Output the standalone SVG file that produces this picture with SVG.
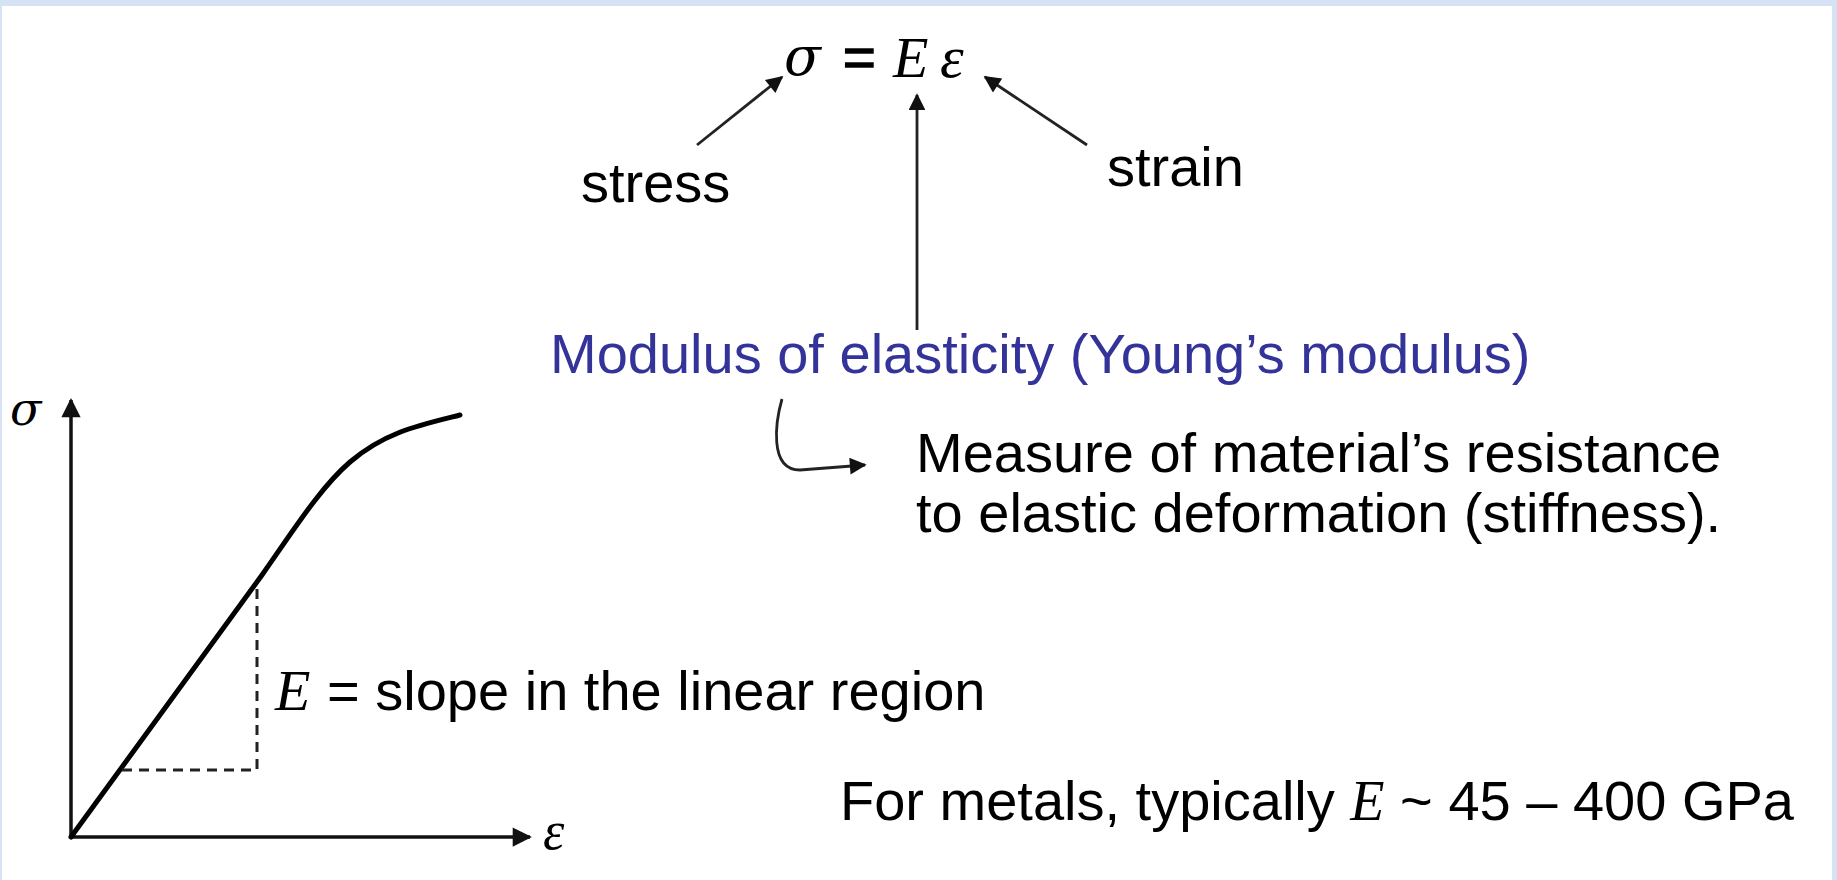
<svg xmlns="http://www.w3.org/2000/svg" width="1837" height="880" viewBox="0 0 1837 880">
<defs>
<marker id="ah" viewBox="0 0 10 10" refX="9" refY="5" markerWidth="7" markerHeight="6" markerUnits="strokeWidth" orient="auto">
<path d="M0,0 L10,5 L0,10 z" fill="#111"/>
</marker>
<marker id="ah2" viewBox="0 0 10 10" refX="9" refY="5" markerWidth="6" markerHeight="5.5" markerUnits="strokeWidth" orient="auto">
<path d="M0,0 L10,5 L0,10 z" fill="#111"/>
</marker>
</defs>
<style>
.sans{font-family:"Liberation Sans",Arial,sans-serif;font-size:56px;fill:#000}
.blue{fill:#333399}
.math{font-family:"Liberation Serif","Times New Roman",serif;font-style:italic;fill:#000}
.greek{font-family:"DejaVu Serif",serif;font-style:italic;fill:#000}
.conn{stroke:#222;stroke-width:2.8;fill:none}
.axis{stroke:#111;stroke-width:3.5;fill:none}
.curve{stroke:#000;stroke-width:5;fill:none;stroke-linejoin:round;stroke-linecap:round}
.dash{stroke:#222;stroke-width:3;fill:none;stroke-dasharray:10,7}
</style>
<rect x="0" y="0" width="1837" height="880" fill="#d5e3f4"/>
<rect x="2" y="6" width="1830" height="874" fill="#ffffff"/>

<g id="formula">
<text class="greek" x="784" y="75" font-size="54">σ</text>
<text class="sans" x="843" y="76" font-size="64" stroke="#000" stroke-width="1.6">=</text>
<text class="math" x="893" y="77" font-size="58">E</text>
<text class="math" x="940" y="77" font-size="60">ε</text>
</g>
<g id="stress"><text class="sans" x="581" y="202">stress</text></g>
<g id="strain"><text class="sans" x="1107" y="186">strain</text></g>
<g id="modulus"><text class="sans blue" x="550" y="373">Modulus of elasticity (Young’s modulus)</text></g>
<g id="measure">
<text class="sans" x="916" y="472">Measure of material’s resistance</text>
<text class="sans" x="916" y="532">to elastic deformation (stiffness).</text>
</g>
<g id="metals">
<text class="sans" x="840" y="820">For metals, typically <tspan class="math">E</tspan> ~ 45 – 400 GPa</text>
</g>

<g id="connectors">
<line class="conn" x1="697" y1="145" x2="782" y2="77" marker-end="url(#ah)"/>
<line class="conn" x1="1087" y1="145" x2="985" y2="77" marker-end="url(#ah)"/>
<line class="conn" x1="917" y1="330" x2="917" y2="95" marker-end="url(#ah)"/>
<path class="conn" d="M782,399 C776,420 768,470 800,470 L865,465" marker-end="url(#ah)"/>
</g>

<g id="graph">
<line class="axis" x1="71" y1="837" x2="71" y2="400" marker-end="url(#ah2)"/>
<line class="axis" x1="71" y1="837" x2="530" y2="837" marker-end="url(#ah2)"/>
<text class="greek" x="10" y="425" font-size="46">σ</text>
<text class="math" x="543" y="849" font-size="54">ε</text>
<path class="curve" d="M71,837 L262,575 C295,528 320,488 350,462 C385,432 420,425 460,415"/>
<polyline class="dash" points="122,770 257,770 257,582"/>
<text class="math" x="275" y="710" font-size="58">E</text>
<text class="sans" x="327" y="710">= slope in the linear region</text>
</g>
</svg>
